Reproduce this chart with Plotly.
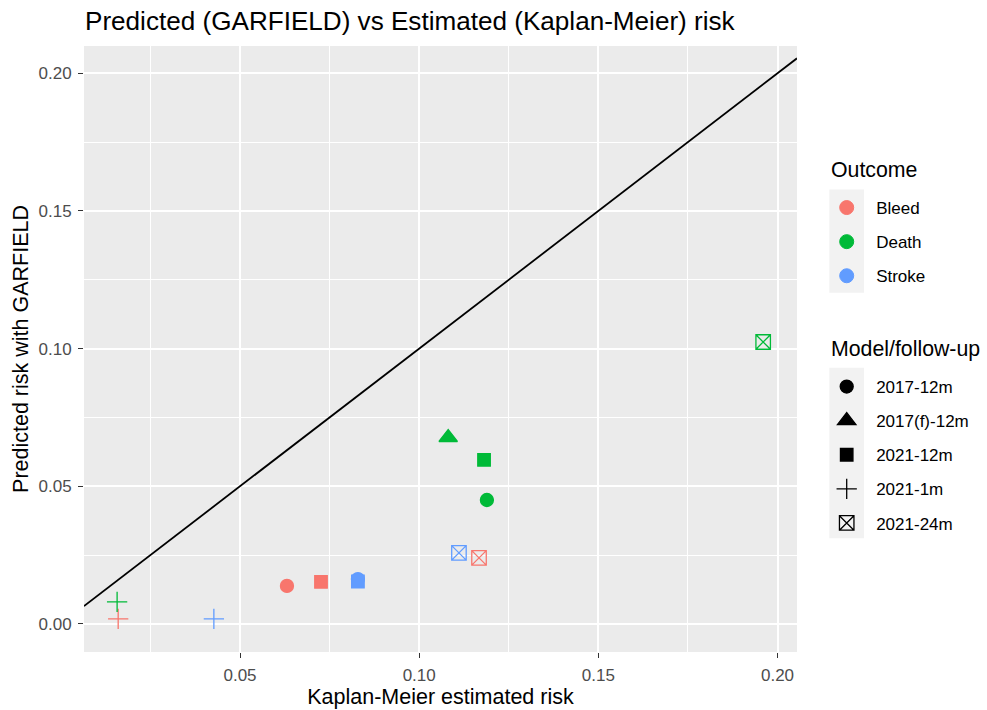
import plotly.graph_objects as go

# ---- data ----
outcome = ["Bleed", "Bleed", "Bleed", "Bleed",
           "Death", "Death", "Death", "Death", "Death",
           "Stroke", "Stroke", "Stroke", "Stroke"]
model = ["2017-12m", "2021-12m", "2021-1m", "2021-24m",
         "2017(f)-12m", "2021-12m", "2017-12m", "2021-1m", "2021-24m",
         "2017-12m", "2021-12m", "2021-1m", "2021-24m"]
km_risk = [0.0631, 0.0726, 0.0160, 0.1167,
           0.1081, 0.1181, 0.1189, 0.0157, 0.1960,
           0.0829, 0.0829, 0.0427, 0.1111]
pred_risk = [0.0138, 0.0153, 0.0018, 0.0240,
             0.0677, 0.0596, 0.0450, 0.0080, 0.1024,
             0.0163, 0.0154, 0.0018, 0.0258]

outcome_levels = ["Bleed", "Death", "Stroke"]
model_levels = ["2017-12m", "2017(f)-12m", "2021-12m", "2021-1m", "2021-24m"]
x_ticks = [0.05, 0.10, 0.15, 0.20]
y_ticks = [0.00, 0.05, 0.10, 0.15, 0.20]
x_range = [0.00646, 0.20544]
y_range = [-0.0102, 0.2099]

# ---- styles ----
colors = {"Bleed": "#F8766D", "Death": "#00BA38", "Stroke": "#619CFF"}
symbols = {"2017-12m": "circle", "2017(f)-12m": "triangle-up",
           "2021-12m": "square", "2021-1m": "cross-thin-open",
           "2021-24m": "square-x-open"}
sizes = {"2017-12m": 13, "2017(f)-12m": 16, "2021-12m": 12.5,
         "2021-1m": 14.5, "2021-24m": 14.5}

FONT = "Liberation Sans, Arial, Helvetica, sans-serif"
W, H = 987, 710
L, R, T, B = 84, 797, 46, 652  # panel edges in page pixels


def px(xp):
    return (xp - L) / (R - L)


def py(yp):
    return (B - yp) / (B - T)


fig = go.Figure()

# data points, one trace per point to keep draw order
for o, m, xv, yv in zip(outcome, model, km_risk, pred_risk):
    fig.add_trace(go.Scatter(
        x=[xv], y=[yv], mode="markers", showlegend=False,
        hovertemplate=f"{o} {m}<br>KM=%{{x}}<br>Pred=%{{y}}<extra></extra>",
        marker=dict(symbol=symbols[m], size=sizes[m], color=colors[o],
                    line=dict(color=colors[o], width=1.3))))

# legend entries
NB = "\u00a0\u00a0"
for o in outcome_levels:
    fig.add_trace(go.Scatter(
        x=[None], y=[None], mode="markers", name=NB + o, legend="legend",
        legendgroup=o,
        marker=dict(symbol="circle", size=14, color=colors[o],
                    line=dict(color=colors[o], width=1))))
for m in model_levels:
    fig.add_trace(go.Scatter(
        x=[None], y=[None], mode="markers", name=NB + m, legend="legend2",
        legendgroup=m,
        marker=dict(symbol=symbols[m], size=sizes[m], color="black",
                    line=dict(color="black", width=1.3))))

# identity line
fig.add_shape(type="line", xref="x", yref="y",
              x0=x_range[0], y0=x_range[0], x1=x_range[1], y1=x_range[1],
              line=dict(color="black", width=1.8), layer="above")

# legend key backgrounds
for (y0p, y1p) in [(189.5, 292.7), (367.7, 538.3)]:
    fig.add_shape(type="rect", xref="paper", yref="paper",
                  x0=px(829.3), x1=px(864), y0=py(y1p), y1=py(y0p),
                  fillcolor="#F2F2F2", line=dict(width=0), layer="below")

# legend titles
for txt, yp in [("Outcome", 169.5), ("Model/follow-up", 349)]:
    fig.add_annotation(text=txt, xref="paper", yref="paper",
                       x=px(829.5), y=py(yp), xanchor="left", yanchor="middle",
                       showarrow=False, font=dict(size=21.3, color="black"))

axis_common = dict(
    showgrid=True, gridcolor="white", gridwidth=1.5,
    zeroline=False, showline=False,
    ticks="outside", ticklen=5, tickcolor="#333333", tickwidth=1.1,
    ticklabelstandoff=3,
    tickfont=dict(size=17, color="#4D4D4D"),
)

fig.update_layout(
    width=W, height=H,
    margin=dict(l=L, r=W - R, t=T, b=H - B, autoexpand=False),
    paper_bgcolor="white", plot_bgcolor="#EBEBEB",
    font=dict(family=FONT, color="black"),
    title=dict(text="Predicted (GARFIELD) vs Estimated (Kaplan-Meier) risk",
               xref="container", yref="container",
               x=85 / W, xanchor="left",
               y=1 - 20.5 / H, yanchor="middle",
               font=dict(size=26.1, color="black")),
    xaxis=dict(range=x_range, tickvals=x_ticks,
               ticktext=[f"{v:.2f}" for v in x_ticks],
               title=dict(text="Kaplan-Meier estimated risk",
                          font=dict(size=21.5), standoff=2),
               minor=dict(showgrid=True, gridcolor="white", gridwidth=0.7,
                          dtick=0.025, tick0=0),
               **axis_common),
    yaxis=dict(range=y_range, tickvals=y_ticks,
               ticktext=[f"{v:.2f}" for v in y_ticks],
               title=dict(text="Predicted risk with GARFIELD",
                          font=dict(size=21.5), standoff=3),
               minor=dict(showgrid=True, gridcolor="white", gridwidth=0.7,
                          dtick=0.025, tick0=0),
               **axis_common),
    legend=dict(x=px(826.7), xanchor="left", y=py(190), yanchor="top",
                bgcolor="rgba(0,0,0,0)", font=dict(size=17),
                tracegroupgap=9, itemsizing="trace"),
    legend2=dict(x=px(826.7), xanchor="left", y=py(369), yanchor="top",
                 bgcolor="rgba(0,0,0,0)", font=dict(size=17),
                 tracegroupgap=9, itemsizing="trace"),
)

fig.write_html("out.html",
               config={"displayModeBar": False},
               post_script="document.body.style.margin='0px';"
                           "document.body.style.overflow='hidden';")
